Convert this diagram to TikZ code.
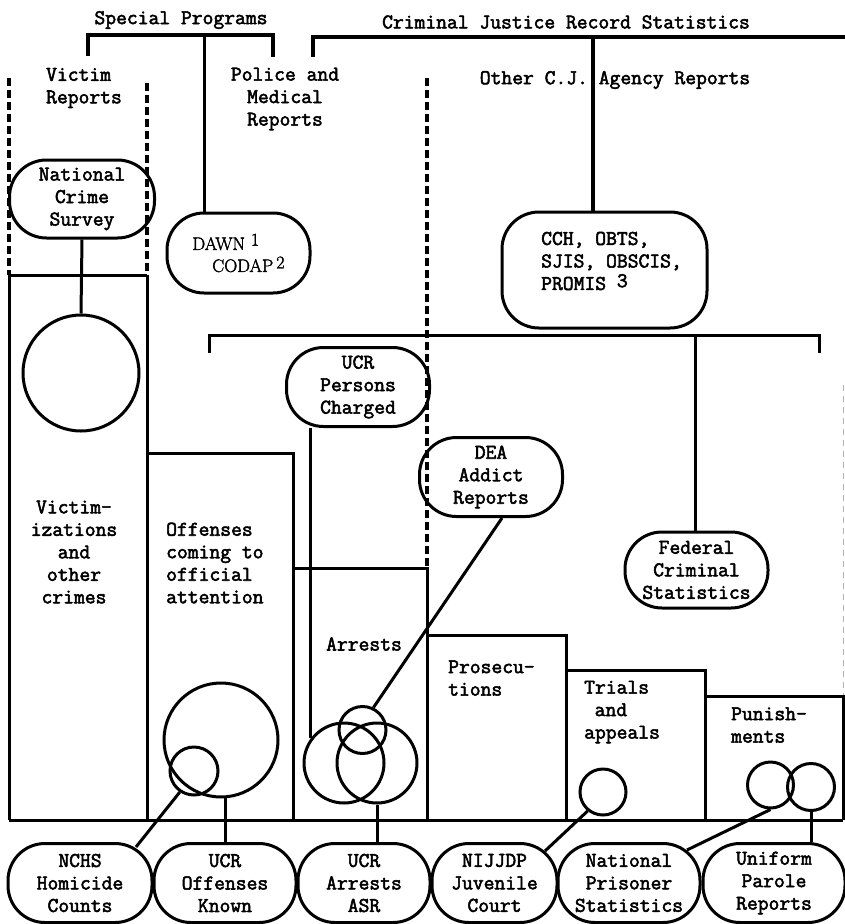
\documentclass[tikz,border=0pt]{standalone}
\usepackage{fontspec}
\newfontfamily\tw{Latin Modern Mono}[FakeBold=2.5]
\newfontfamily\twp{Latin Modern Roman}[FakeBold=2]
\begin{document}
\begin{tikzpicture}[x=1pt,y=-1pt,
  txt/.style={inner sep=0pt, font=\tw\fontsize{21}{22.5}\selectfont},
  stad/.style={draw, line width=3pt, rounded corners=37pt, inner sep=0pt, align=center, font=\tw\fontsize{21}{22.5}\selectfont},
  circ/.style={draw, circle, line width=3pt, inner sep=0pt},
  ln/.style={line width=3pt},
  brk/.style={line width=3.4pt},
  dsh/.style={line width=3.2pt, dash pattern=on 8pt off 4pt},
]
\fill[white] (0,0) rectangle (845,924);
\useasboundingbox (0,0) rectangle (845,924);

% headings
\node[txt] (sp) at (181,20) {Special Programs};
\node[txt] (cj) at (566,22) {Criminal Justice Record Statistics};
\node[txt, align=left] (vr) at (84,88) {Victim\\Reports};
\node[txt, align=center] (pm) at (285,99) {Police and\\Medical\\Reports};
\node[txt] (oa) at (615,80) {Other C.J. Agency Reports};

% brackets
\coordinate (spl) at (88,35);
\coordinate (spr) at (273,35);
\coordinate (spm) at (204,35);
\draw[brk] (88,56) -- (spl) -- (spr) -- (273,57);
\coordinate (cjl) at (313,37);
\coordinate (cjr) at (845,37);
\coordinate (cjm) at (593,37);
\draw[brk] (313,57) -- (cjl) -- (cjr);
\coordinate (agl) at (209,335);
\coordinate (agr) at (819,335);
\coordinate (agm) at (695,335);
\draw[ln] (209,353) -- (agl) -- (agr) -- (819,353);

% upper nodes
\node[stad, minimum width=145pt, minimum height=78pt] (ncs) at (82,199) {National\\Crime\\Survey};
\node[stad, minimum width=143pt, minimum height=80pt, align=left,
      font=\twp\fontsize{18}{22}\selectfont] (dawn) at (238.5,253)
      {DAWN\,\,\raisebox{.55ex}{1}\\\hspace*{1.1em}CODAP\,\raisebox{.45ex}{2}};
\node[stad, minimum width=205pt, minimum height=116pt] (cch) at (604.5,270) {};
\node[txt, align=left, anchor=west] (cchtxt) at (541,261)
      {CCH, OBTS,\\SJIS, OBSCIS,\\PROMIS \raisebox{.3ex}{3}};
\node[stad, minimum width=143pt, minimum height=79pt] (ucrpc) at (358,387) {UCR\\Persons\\Charged};
\node[stad, minimum width=143pt, minimum height=79pt] (dea) at (491,477) {DEA\\Addict\\Reports};
\node[stad, minimum width=143pt, minimum height=76pt] (fcs) at (696.5,570) {Federal\\Criminal\\Statistics};

\draw[ln] (spm) -- (spm |- dawn.north);
\draw[brk] (cjm) -- (cjm |- cch.north);
\draw[ln] (agm) -- (agm |- fcs.north);

% dashed verticals
\draw[dsh] (9,78) -- (9,275);
\draw[dsh] (147,83) -- (147,275);
\draw[dsh] (427,78) -- (427,568);
\draw[line width=0.6pt, gray!60, dash pattern=on 6pt off 5pt] (843,385) -- (843,696);

% columns
\draw[ln] (9,275) -- (147,275);
\draw[ln] (9,275) -- (9,820);
\draw[ln] (147,275) -- (147,820);
\draw[ln] (147,453) -- (293,453) -- (293,820);
\draw[ln] (293,568) -- (427,568) -- (427,820);
\draw[ln] (427,635) -- (566,635) -- (566,820);
\draw[ln] (566,670) -- (705,670) -- (705,820);
\draw[ln] (705,696) -- (843,696) -- (843,820);
\draw[ln] (9,820) -- (843,820);

% column labels
\node[txt, align=center] (vic) at (74,552) {Victim-\\izations\\and\\other\\crimes};
\node[txt, align=left, anchor=west] (off) at (166,563) {Offenses\\coming to\\official\\attention};
\node[txt] (arr) at (364,644) {Arrests};
\node[txt, align=left, anchor=west] (pros) at (448,678) {Prosecu-\\tions};
\node[txt, align=left, anchor=west] (tri) at (584,712) {Trials\\\hspace*{0.5em}and\\appeals};
\node[txt, align=left, anchor=west] (pun) at (731,725) {Punish-\\ments};

% circles
\node[circ, minimum size=116pt] (vc) at (81,373) {};
\node[circ, minimum size=114pt] (offbig) at (221,740) {};
\node[circ, minimum size=48pt] (offsmall) at (194,771) {};
\node[circ, minimum size=47pt] (atop) at (362.5,730) {};
\node[circ, minimum size=80pt] (aleft) at (344,763) {};
\node[circ, minimum size=80pt] (aright) at (377,763) {};
\node[circ, minimum size=46pt] (tc) at (603,792) {};
\node[circ, minimum size=46pt] (pleft) at (770.5,785) {};
\node[circ, minimum size=47pt] (pright) at (811,787) {};

% bottom nodes
\node[stad, minimum width=144pt, minimum height=79pt] (nchs) at (80,883) {NCHS\\Homicide\\Counts};
\node[stad, minimum width=142pt, minimum height=79pt] (uok) at (225,883) {UCR\\Offenses\\Known};
\node[stad, minimum width=132pt, minimum height=79pt] (uasr) at (364,883) {UCR\\Arrests\\ASR};
\node[stad, minimum width=125pt, minimum height=79pt] (nij) at (494.5,883) {NIJJDP\\Juvenile\\Court};
\node[stad, minimum width=142pt, minimum height=79pt] (nps) at (629,883) {National\\Prisoner\\Statistics};
\node[stad, minimum width=142pt, minimum height=79pt] (upr) at (774,883) {Uniform\\Parole\\Reports};

% connectors
\draw[ln] (ncs.south) -- (vc.north);
\draw[ln] (ucrpc.south -| aleft.143) -- (aleft.143);
\draw[ln] ([xshift=11pt]dea.south) -- (atop.64);
\draw[ln] (aright.south) -- (aright.south |- uasr.north);
\draw[ln] (offbig.-86) -- (offbig.-86 |- uok.north);
\coordinate (nchsin) at (136,847);
\draw[ln] (offsmall.236) -- (nchsin);
\coordinate (nijin) at (545,851);
\draw[ln] (tc.231) -- (nijin);
\coordinate (npsin) at (687,850);
\draw[ln] (pleft.south) -- (npsin);
\draw[ln] (pright.south) -- (pright.south |- upr.north);
\end{tikzpicture}
\end{document}
